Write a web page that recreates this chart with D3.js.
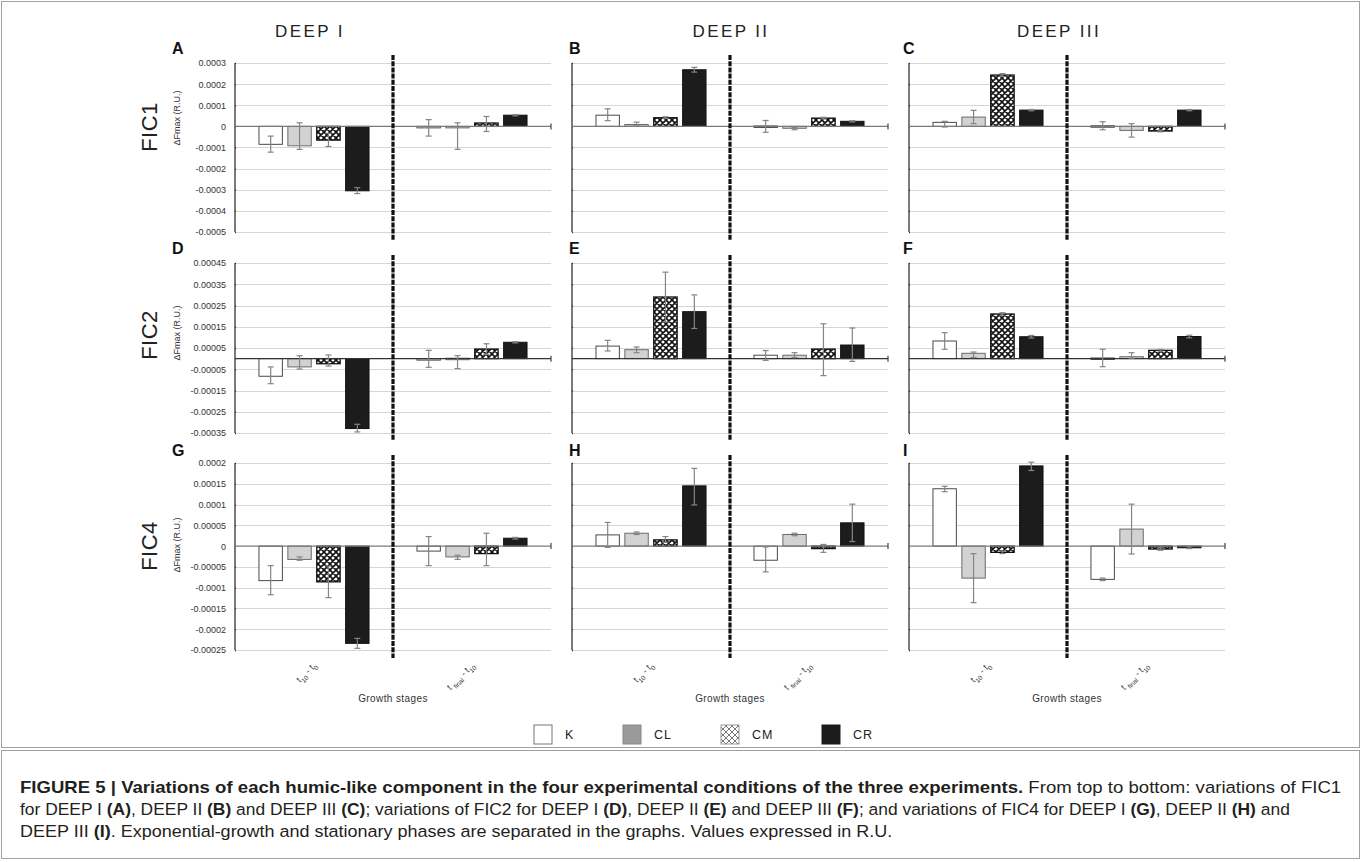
<!DOCTYPE html>
<html><head><meta charset="utf-8">
<script src="https://cdn.jsdelivr.net/npm/d3@7/dist/d3.min.js"></script>
<style>
html,body{margin:0;padding:0;background:#fff;}
svg{display:block;font-family:Arial,"Liberation Sans",Helvetica,sans-serif;}
</style></head>
<body>
<svg id="chart" width="1362" height="862"></svg>
<script>
// ---------- data ----------
const rowNames = ["FIC1", "FIC2", "FIC4"];
const colNames = ["DEEP I", "DEEP II", "DEEP III"];
const stages = ["t10 - t0", "tfinal - t10"];
const treatments = ["K", "CL", "CM", "CR"];
const panelLetters = ["A", "B", "C", "D", "E", "F", "G", "H", "I"];

// tick values per row
const ticksFIC1 = [0.0003, 0.0002, 0.0001, 0, -0.0001, -0.0002, -0.0003, -0.0004, -0.0005];
const tickLabelsFIC1 = ["0.0003", "0.0002", "0.0001", "0", "-0.0001", "-0.0002", "-0.0003", "-0.0004", "-0.0005"];
const ticksFIC2 = [0.00045, 0.00035, 0.00025, 0.00015, 0.00005, -0.00005, -0.00015, -0.00025, -0.00035];
const tickLabelsFIC2 = ["0.00045", "0.00035", "0.00025", "0.00015", "0.00005", "-0.00005", "-0.00015", "-0.00025", "-0.00035"];
const ticksFIC4 = [0.0002, 0.00015, 0.0001, 0.00005, 0, -0.00005, -0.0001, -0.00015, -0.0002, -0.00025];
const tickLabelsFIC4 = ["0.0002", "0.00015", "0.0001", "0.00005", "0", "-0.00005", "-0.0001", "-0.00015", "-0.0002", "-0.00025"];

// values: [t10-t0: K, CL, CM, CR, tfinal-t10: K, CL, CM, CR]; hi/lo = error bar ends
const valA = [-0.000085, -0.000092, -0.000065, -0.000305, -0.000005, -0.000003, 0.000016, 0.000053];
const hiA  = [-0.000046,  0.000017, -0.000033, -0.000290,  0.000032,  0.000017, 0.000047, 0.000056];
const loA  = [-0.000122, -0.000109, -0.000095, -0.000318, -0.000046, -0.000109, -0.000024, 0.000050];

const valB = [0.000053, 0.000009, 0.000041, 0.000268,  0.000002, -0.000009, 0.000039, 0.000024];
const hiB  = [0.000083, 0.000020, 0.000045, 0.000279,  0.000028, -0.000005, 0.000043, 0.000027];
const loB  = [0.000027, 0.000003, 0.000037, 0.000257, -0.000028, -0.000016, 0.000035, 0.000021];

const valC = [ 0.000019, 0.000044, 0.000243, 0.000077,  0.000003, -0.000019, -0.000022, 0.000077];
const hiC  = [ 0.000024, 0.000076, 0.000250, 0.000080,  0.000022,  0.000013, -0.000018, 0.000080];
const loC  = [-0.000003, 0.000013, 0.000236, 0.000074, -0.000016, -0.000051, -0.000026, 0.000074];

const valD = [-0.000083, -0.000039, -0.000024, -0.000329, -0.000005,  0.000002, 0.000045, 0.000077];
const hiD  = [-0.000039,  0.000014,  0.000017, -0.000309,  0.000039,  0.000014, 0.000070, 0.000080];
const loD  = [-0.000118, -0.000049, -0.000035, -0.000345, -0.000041, -0.000047, 0.000020, 0.000074];

const valE = [0.000059, 0.000042, 0.000290, 0.000221,  0.000016, 0.000016,  0.000045,  0.000064];
const hiE  = [0.000086, 0.000055, 0.000407, 0.000300,  0.000038, 0.000028,  0.000164,  0.000144];
const loE  = [0.000036, 0.000028, 0.000173, 0.000142, -0.000008, 0.000005, -0.000080, -0.000013];

const valF = [0.000083, 0.000025, 0.000210, 0.000103,  0.000003, 0.000009, 0.000039, 0.000104];
const hiF  = [0.000122, 0.000031, 0.000216, 0.000109,  0.000044, 0.000028, 0.000043, 0.000110];
const loF  = [0.000044, 0.000005, 0.000204, 0.000097, -0.000038, 0.000002, 0.000035, 0.000098];

const valG = [-0.000083, -0.000032, -0.000086, -0.000234, -0.000012, -0.000026, -0.000018, 0.000019];
const hiG  = [-0.000047, -0.000026, -0.000048, -0.000222,  0.000023, -0.000022,  0.000031, 0.000021];
const loG  = [-0.000117, -0.000034, -0.000124, -0.000246, -0.000047, -0.000032, -0.000047, 0.000017];

const valH = [ 0.000027, 0.000031, 0.000015, 0.000145, -0.000034, 0.000028, -0.000006, 0.000056];
const hiH  = [ 0.000057, 0.000034, 0.000023, 0.000187, -0.000002, 0.000031,  0.000004, 0.000101];
const loH  = [-0.000003, 0.000028, 0.000009, 0.000099, -0.000062, 0.000025, -0.000015, 0.000011];

const valI = [0.000138, -0.000077, -0.000015, 0.000193, -0.000080,  0.000041, -0.000007, -0.000004];
const hiI  = [0.000144, -0.000018, -0.000012, 0.000202, -0.000077,  0.000101, -0.000004, -0.000002];
const loI  = [0.000131, -0.000136, -0.000018, 0.000182, -0.000083, -0.000019, -0.000010, -0.000006];

// ---------- build ----------
const rowTicks = [ticksFIC1, ticksFIC2, ticksFIC4];
const rowTickLabels = [tickLabelsFIC1, tickLabelsFIC2, tickLabelsFIC4];
const panelData = [
  [valA, hiA, loA], [valB, hiB, loB], [valC, hiC, loC],
  [valD, hiD, loD], [valE, hiE, loE], [valF, hiF, loF],
  [valG, hiG, loG], [valH, hiH, loH], [valI, hiI, loI]
];

const svg = d3.select("#chart");

// frames
svg.append("rect").attr("x", 1.5).attr("y", 1.5).attr("width", 1358).attr("height", 746)
  .attr("fill", "none").attr("stroke", "#a0a0a0").attr("stroke-width", 1);
svg.append("rect").attr("x", 1.5).attr("y", 750.5).attr("width", 1358).attr("height", 108)
  .attr("fill", "none").attr("stroke", "#a0a0a0").attr("stroke-width", 1);

// pattern for CM
const defs = svg.append("defs");
function hatch(id, color, w) {
  const p = defs.append("pattern").attr("id", id).attr("patternUnits", "userSpaceOnUse")
    .attr("width", 6).attr("height", 6);
  p.append("rect").attr("width", 6).attr("height", 6).attr("fill", "#fff");
  p.append("path").attr("d", "M0,0 L6,6 M6,0 L0,6 M-1,5 L1,7 M5,-1 L7,1 M-1,1 L1,-1 M5,7 L7,5")
    .attr("stroke", color).attr("stroke-width", w);
}
hatch("cmHatch", "#111", 1.6);
hatch("cmHatchLeg", "#777", 1);

const fills = { K: "#ffffff", CL: "#d2d2d2", CM: "url(#cmHatch)", CR: "#1c1c1c" };
const strokes = { K: "#4a4a4a", CL: "#6a6a6a", CM: "#111", CR: "#111" };

const colAxisX = [235, 572, 909];
const panelW = 316;
const rowTop = [63, 263, 463];
const rowBottom = [232, 433, 650];
const letterX = [172, 569, 903];
const letterY = [54, 254, 456];

for (let r = 0; r < 3; r++) {
  const ticks = rowTicks[r];
  const labels = rowTickLabels[r];
  const y = d3.scaleLinear().domain([d3.min(ticks), d3.max(ticks)]).range([rowBottom[r], rowTop[r]]);
  for (let c = 0; c < 3; c++) {
    const idx = r * 3 + c;
    const [vals, his, los] = panelData[idx];
    const x0 = colAxisX[c];
    const x = d3.scaleBand().domain(stages).range([x0, x0 + panelW]);
    const xi = d3.scaleBand().domain(treatments).range([0, x.bandwidth()]).paddingInner(0.19).paddingOuter(0.83);
    const g = svg.append("g");

    // gridlines
    g.selectAll(".grid").data(ticks.filter(t => t !== 0)).enter().append("line")
      .attr("x1", x0).attr("x2", x0 + panelW)
      .attr("y1", d => Math.round(y(d)) + 0.5).attr("y2", d => Math.round(y(d)) + 0.5)
      .attr("stroke", "#d6d6d6").attr("stroke-width", 1.2);

    // y axis
    const axis = d3.axisLeft(y).tickValues(ticks).tickSize(5).tickPadding(4)
      .tickFormat((d, i) => c === 0 ? labels[i] : "");
    const ag = g.append("g").attr("transform", `translate(${x0},0)`).call(axis);
    ag.select(".domain").attr("stroke", "#333").attr("stroke-width", 1.3).attr("d", `M0,${rowTop[r]}V${rowBottom[r]}`);
    ag.selectAll(".tick line").attr("stroke", "#333").attr("stroke-width", 1.3).attr("x2", 1);
    ag.selectAll(".tick text").attr("font-size", 9).attr("fill", "#333")
      .attr("font-family", "Arial, 'Liberation Sans', sans-serif");

    // bars
    const rows = [];
    stages.forEach((s, si) => treatments.forEach((t, ti) => {
      const k = si * 4 + ti;
      rows.push({ s, t, v: vals[k], hi: his[k], lo: los[k] });
    }));
    g.selectAll(".bar").data(rows).enter().append("rect")
      .attr("x", d => x(d.s) + xi(d.t))
      .attr("width", xi.bandwidth())
      .attr("y", d => Math.min(y(d.v), y(0)))
      .attr("height", d => Math.max(1.5, Math.abs(y(d.v) - y(0))))
      .attr("fill", d => fills[d.t])
      .attr("stroke", d => strokes[d.t])
      .attr("stroke-width", d => d.t === "CM" ? 1.3 : 1);

    // zero line
    g.append("line").attr("x1", x0).attr("x2", x0 + panelW)
      .attr("y1", y(0)).attr("y2", y(0))
      .attr("stroke", r === 1 ? "#333" : "#7a7a7a").attr("stroke-width", 1.3);
    g.append("line").attr("x1", x0 + panelW).attr("x2", x0 + panelW)
      .attr("y1", y(0) - 3).attr("y2", y(0) + 3)
      .attr("stroke", "#444").attr("stroke-width", 1.2);

    // error bars
    const eb = g.selectAll(".err").data(rows).enter().append("g")
      .attr("transform", d => `translate(${x(d.s) + xi(d.t) + xi.bandwidth() / 2},0)`);
    eb.append("line").attr("y1", d => y(d.hi)).attr("y2", d => y(d.lo))
      .attr("stroke", "#858585").attr("stroke-width", 1.2);
    eb.append("line").attr("x1", -3).attr("x2", 3).attr("y1", d => y(d.hi)).attr("y2", d => y(d.hi))
      .attr("stroke", "#858585").attr("stroke-width", 1.2);
    eb.append("line").attr("x1", -3).attr("x2", 3).attr("y1", d => y(d.lo)).attr("y2", d => y(d.lo))
      .attr("stroke", "#858585").attr("stroke-width", 1.2);

    // divider
    const dx = x0 + x.bandwidth();
    g.append("line").attr("x1", dx).attr("x2", dx)
      .attr("y1", rowTop[r] - 8).attr("y2", rowBottom[r] + 8)
      .attr("stroke", "#111").attr("stroke-width", 3.2).attr("stroke-dasharray", "5,1.2");

    // panel letter
    svg.append("text").attr("x", letterX[c]).attr("y", letterY[r])
      .attr("font-size", 16).attr("font-weight", "bold").attr("fill", "#111")
      .text(panelLetters[idx]);

    // category labels on bottom row
    if (r === 2) {
      stages.forEach((s, si) => {
        const cx = x(s) + x.bandwidth() / 2 + 3;
        const t = svg.append("text").attr("transform", `translate(${cx},666) rotate(-45)`)
          .attr("text-anchor", "end").attr("font-size", 9).attr("fill", "#333");
        if (si === 0) {
          t.append("tspan").text("t");
          t.append("tspan").attr("font-size", 6.5).attr("dy", 3).text("10");
          t.append("tspan").attr("dy", -3).text(" - t");
          t.append("tspan").attr("font-size", 6.5).attr("dy", 3).text("0");
        } else {
          t.append("tspan").text("t ");
          t.append("tspan").attr("font-size", 6.5).attr("dy", 3).text("final");
          t.append("tspan").attr("dy", -3).text(" - t");
          t.append("tspan").attr("font-size", 6.5).attr("dy", 3).text("10");
        }
      });
      svg.append("text").attr("x", dx).attr("y", 702).attr("text-anchor", "middle")
        .attr("font-size", 10).attr("letter-spacing", 0.4).attr("fill", "#333").text("Growth stages");
    }
  }
  // row label
  const rowCY = [127, 335, 546][r];
  svg.append("text").attr("transform", `translate(157,${rowCY}) rotate(-90)`)
    .attr("text-anchor", "middle").attr("font-size", 22).attr("fill", "#222")
    .attr("letter-spacing", 0.5).text(rowNames[r]);
  const yCY = [118, 333, 545][r];
  svg.append("text").attr("transform", `translate(180,${yCY}) rotate(-90)`)
    .attr("text-anchor", "middle").attr("font-size", 9).attr("fill", "#333")
    .text("\u0394Fmax (R.U.)");
}

// column titles
const colTitleX = [310, 731, 1059];
colNames.forEach((n, i) => {
  svg.append("text").attr("x", colTitleX[i]).attr("y", 37).attr("text-anchor", "middle")
    .attr("font-size", 17).attr("letter-spacing", 2.4).attr("fill", "#222").text(n);
});

// legend
const legX = [534, 623, 721, 822];
const legFill = { K: "#ffffff", CL: "#9a9a9a", CM: "url(#cmHatchLeg)", CR: "#1c1c1c" };
const legStroke = { K: "#777", CL: "#888", CM: "#999", CR: "#1c1c1c" };
treatments.forEach((t, i) => {
  svg.append("rect").attr("x", legX[i]).attr("y", 725).attr("width", 18).attr("height", 19)
    .attr("fill", legFill[t]).attr("stroke", legStroke[t]).attr("stroke-width", 1);
  svg.append("text").attr("x", legX[i] + 31).attr("y", 739).attr("font-size", 12.5)
    .attr("letter-spacing", 1).attr("fill", "#222").text(t);
});

// caption (condensed horizontally; lines 1-2 fitted to their reference widths)
const capLines = [
  { y: 793, len: 1322, parts: [
    ["FIGURE 5 | Variations of each humic-like component in the four experimental conditions of the three experiments.", true],
    [" From top to bottom: variations of FIC1", false]] },
  { y: 815, len: 1271, parts: [
    ["for DEEP I ", false], ["(A)", true], [", DEEP II ", false], ["(B)", true], [" and DEEP III ", false], ["(C)", true],
    ["; variations of FIC2 for DEEP I ", false], ["(D)", true], [", DEEP II ", false], ["(E)", true],
    [" and DEEP III ", false], ["(F)", true], ["; and variations of FIC4 for DEEP I ", false], ["(G)", true],
    [", DEEP II ", false], ["(H)", true], [" and", false]] },
  { y: 837, len: null, parts: [
    ["DEEP III ", false], ["(I)", true], [". Exponential-growth and stationary phases are separated in the graphs. Values expressed in R.U.", false]] }
];
const capNodes = capLines.map(l => {
  const t = svg.append("text").attr("x", 0).attr("y", 0).attr("font-size", 16.5)
    .attr("fill", "#231f20");
  l.parts.forEach(p => t.append("tspan").attr("font-weight", p[1] ? "bold" : "normal").text(p[0]));
  return t;
});
const s1 = capLines[0].len / capNodes[0].node().getComputedTextLength();
const s2 = capLines[1].len / capNodes[1].node().getComputedTextLength();
const capScales = [s1, s2, (s1 + s2) / 2];
capNodes.forEach((t, i) => t.attr("transform", `translate(20,${capLines[i].y}) scale(${capScales[i]},1)`));
</script>
</body></html>
